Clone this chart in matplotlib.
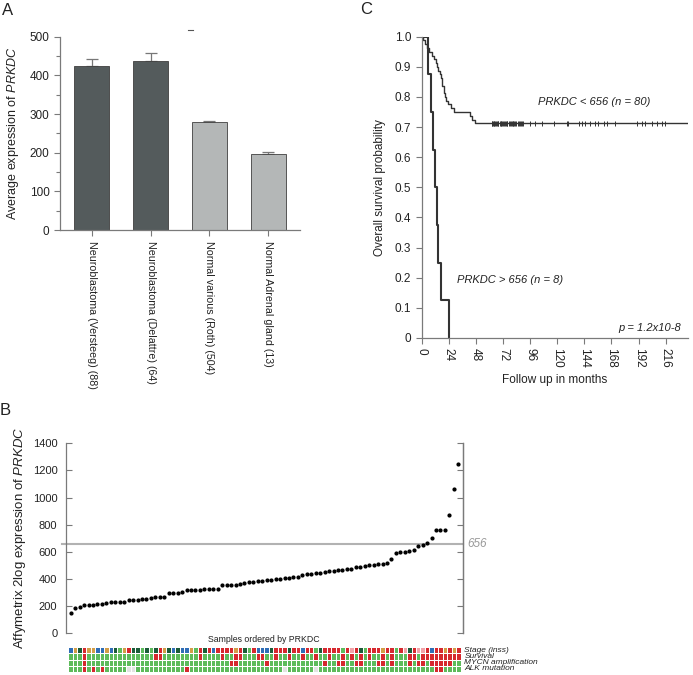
import numpy as np
import matplotlib
matplotlib.use('Agg')
import matplotlib.pyplot as plt
from matplotlib.colors import ListedColormap
from matplotlib.lines import Line2D

plt.rcParams['font.family'] = ['Liberation Sans', 'DejaVu Sans']
plt.rcParams['mathtext.fontset'] = 'custom'
plt.rcParams['mathtext.it'] = 'Liberation Sans:italic'
plt.rcParams['mathtext.rm'] = 'Liberation Sans'

# ---------------- data ----------------
# Panel A
a_groups = ["Neuroblastoma (Versteeg) (88)", "Neuroblastoma (Delattre) (64)",
            "Normal various (Roth) (504)", "Normal Adrenal gland (13)"]
a_means = [423, 436, 279, 196]
a_errs = [20, 23, 4, 5]
a_kind = ["tumor", "tumor", "normal", "normal"]

# Panel B (samples ordered by PRKDC)
b_values = [147, 186, 196, 208, 212, 212, 213, 214, 226, 227, 228, 230, 232, 243, 245,
            247, 250, 256, 263, 266, 268, 270, 295, 297, 300, 305, 316, 318, 320, 322,
            326, 327, 328, 330, 355, 356, 357, 358, 362, 372, 375, 378, 383, 388, 392,
            395, 398, 403, 407, 410, 412, 415, 432, 438, 440, 442, 447, 452, 457, 462,
            468, 470, 473, 476, 490, 492, 496, 500, 505, 508, 510, 516, 545, 590, 598,
            600, 605, 612, 640, 652, 668, 705, 758, 760, 762, 875, 1065, 1245]
b_cutoff = 656
row_names = ["Stage (inss)", "Survival", "MYCN amplification", "ALK mutation"]
# stage codes: B=blue, T=tan, D=dark green, G=green, R=red, P=pink
stage_codes = ("BTDRTTBBTBDGTRDDGDGDRTDBDBBTG"
               "RDRBRRRRTRDGRBBBDRRRDRRBRRGDRRR"
               "RGRPRDGRRRTRRGRPDRPPRBRRTRTR")
survival_dead = [3, 19, 20, 29, 34, 37, 38, 42, 43, 46, 49, 52, 55, 58, 61, 63, 65, 67, 70,
                 72, 76, 77, 79, 80, 81, 82, 83, 84, 85, 86, 87]
mycn_amplified = [3, 36, 37, 44, 57, 60, 61, 64, 65, 69, 70, 72, 76, 78, 79, 81, 82, 83, 84,
                  85]
alk_mutated = [3, 5, 7, 26, 82, 83]
alk_missing = [13, 14, 48, 55]

# Panel C (Kaplan-Meier)
low_event_times = [1.5, 3, 5, 7, 9, 11, 12.5, 14, 15, 16, 17, 18, 18.5, 19.5, 20, 21, 22, 23,
                   26, 29, 43, 45, 47]
low_censor_times = [62, 62.5, 63, 64, 64.5, 65, 66, 66.5, 67.5, 68, 69, 70, 70.5, 71, 72, 73,
                    74, 74.5, 75.5, 76, 77, 78, 79, 80, 80.5, 81, 82, 83, 84, 85.5, 86, 87,
                    88, 89, 90, 96, 100.5, 106.5, 117.5, 128.5, 130, 139, 142, 145, 149,
                    153.5, 156.5, 161, 164, 171, 190.5, 195, 197.5, 203.5, 208, 212.5, 215.5]
high_event_times = [5.5, 8, 10, 12, 13.5, 15, 17.5, 24]
c_xticks = [0, 24, 48, 72, 96, 120, 144, 168, 192, 216]
c_yticks = [0, 0.1, 0.2, 0.3, 0.4, 0.5, 0.6, 0.7, 0.8, 0.9, 1.0]

# ---------------- figure ----------------
W, H = 693, 675
fig = plt.figure(figsize=(W / 100, H / 100), dpi=100)


def axes_px(l, t, r, b):
    return fig.add_axes([l / W, 1 - b / H, (r - l) / W, (b - t) / H])


SP = '#7a7a7a'
TXT = '#222222'

# ---------------- Panel A ----------------
axA = axes_px(60, 36.7, 300, 230)
colA = {"tumor": "#545b5c", "normal": "#b4b7b7"}
xA = np.arange(len(a_groups))
axA.bar(xA, a_means, width=0.59, color=[colA[k] for k in a_kind], edgecolor='#3f3f3f',
        linewidth=0.6, zorder=2)
axA.errorbar(xA, a_means, yerr=[np.zeros(len(a_errs)), a_errs], fmt='none', ecolor='#777777',
             elinewidth=0.9, capsize=4, capthick=0.9, zorder=1)
axA.set_xlim(-0.534, 3.534)
axA.set_ylim(0, 500)
axA.set_yticks(range(0, 501, 100))
axA.set_yticks(range(50, 500, 100), minor=True)
axA.set_xticks(xA)
axA.set_xticklabels(a_groups, rotation=270, ha='center', va='top', fontsize=7.7, color=TXT)
axA.tick_params(axis='y', labelsize=8.5, colors=SP, labelcolor=TXT, length=4, width=0.8)
axA.tick_params(axis='y', which='minor', length=3, width=0.8, colors=SP)
axA.tick_params(axis='x', length=4, width=0.8, colors=SP, labelcolor=TXT, pad=4)
for s in ['top', 'right']:
    axA.spines[s].set_visible(False)
for s in ['left', 'bottom']:
    axA.spines[s].set_color(SP)
    axA.spines[s].set_linewidth(0.9)
axA.set_ylabel(r"Average expression of $\mathit{PRKDC}$", fontsize=9, color=TXT, labelpad=6)
fig.add_artist(Line2D([187.7 / W, 192.7 / W], [1 - 30.3 / H] * 2, color='#555555', lw=0.8))
fig.text(2 / W, 1 - 3 / H, "A", fontsize=12, va='top', ha='left', color=TXT)

# ---------------- Panel C ----------------
axC = axes_px(421.5, 36.7, 688.3, 338)


def km(event_times, censor_times):
    t = np.concatenate([event_times, censor_times])
    e = np.concatenate([np.ones(len(event_times)), np.zeros(len(censor_times))])
    order = np.lexsort((1 - e, t))
    t, e = t[order], e[order]
    at_risk = len(t)
    s = 1.0
    xs, ys, cx, cy = [0.0], [1.0], [], []
    for ti, ei in zip(t, e):
        if ei:
            s *= (at_risk - 1) / at_risk
            xs.append(ti)
            ys.append(s)
        else:
            cx.append(ti)
            cy.append(s)
        at_risk -= 1
    return np.array(xs), np.array(ys), np.array(cx), np.array(cy)


xlimC = 236
lx, ly, lcx, lcy = km(low_event_times, low_censor_times)
hx, hy, _, _ = km(high_event_times, [])
axC.step(np.append(lx, xlimC), np.append(ly, ly[-1]), where='post', color='#333333', lw=1.0)
axC.plot(lcx, lcy, linestyle='none', marker='|', ms=3.6, mew=0.7, color='#333333')
axC.step(hx, hy, where='post', color='#333333', lw=1.5)
axC.set_xlim(0, xlimC)
axC.set_ylim(0, 1.0)
axC.set_xticks(c_xticks)
axC.set_xticklabels([str(v) for v in c_xticks], rotation=270, ha='center', va='top')
axC.set_yticks(c_yticks)
axC.set_yticklabels(["0"] + [f"{v:.1f}" for v in c_yticks[1:]])
axC.tick_params(axis='both', labelsize=8.5, colors=SP, labelcolor=TXT, length=4, width=0.8)
for s in ['top', 'right']:
    axC.spines[s].set_visible(False)
for s in ['left', 'bottom']:
    axC.spines[s].set_color(SP)
    axC.spines[s].set_linewidth(0.9)
axC.set_ylabel("Overall survival probability", fontsize=8.5, color=TXT, labelpad=6)
axC.set_xlabel("Follow up in months", fontsize=8.5, color=TXT, labelpad=4)
axC.text(103, 0.782, "PRKDC < 656 (n = 80)", style='italic', fontsize=8, color=TXT,
         va='center', ha='left')
axC.text(31, 0.192, "PRKDC > 656 (n = 8)", style='italic', fontsize=8, color=TXT,
         va='center', ha='left')
axC.text(230, 0.034, "p = 1.2x10-8", style='italic', fontsize=8, color=TXT,
         va='center', ha='right')
fig.text(360 / W, 1 - 2 / H, "C", fontsize=12, va='top', ha='left', color=TXT)

# ---------------- Panel B ----------------
axB = axes_px(65.7, 443.3, 462.7, 633.3)
nB = len(b_values)
idxB = np.arange(nB)
xlimB = (-1.12, nB - 0.01)
axB.plot(idxB, b_values, linestyle='none', marker='o', ms=2.0, color='black')
axB.plot([-2.0, xlimB[1]], [b_cutoff, b_cutoff], color='#b2b2b2', lw=1.5, clip_on=False,
         zorder=0)
axB.set_xlim(*xlimB)
axB.set_ylim(0, 1400)
axB.set_yticks(range(0, 1401, 200))
axB.set_xticks([])
axB.tick_params(axis='y', labelsize=8, colors=SP, labelcolor=TXT, direction='in', length=4,
                width=0.8, pad=6)
for s in ['top', 'bottom']:
    axB.spines[s].set_visible(False)
for s in ['left', 'right']:
    axB.spines[s].set_color(SP)
    axB.spines[s].set_linewidth(0.9)
secB = axB.secondary_yaxis('right')
secB.set_yticks(range(0, 1401, 200))
secB.tick_params(direction='in', length=4, width=0.8, colors=SP, labelright=False)
secB.spines['right'].set_color(SP)
secB.spines['right'].set_linewidth(0.9)
axB.text(1.012, b_cutoff, str(b_cutoff), transform=axB.get_yaxis_transform(), style='italic',
         fontsize=8.5, color='#9a9a9a', va='center', ha='left')
axB.set_ylabel(r"Affymetrix 2log expression of $\mathit{PRKDC}$", fontsize=9.5, color=TXT,
               labelpad=3)
fig.text(264 / W, 1 - 639 / H, "Samples ordered by PRKDC", fontsize=6.3, color=TXT,
         ha='center', va='center')
fig.text(0 / W, 1 - 403 / H, "B", fontsize=12, va='top', ha='left', color=TXT)

# ---------------- Heatmap ----------------
axH = axes_px(65.7, 647.3, 462.7, 671.7)
codes = "BTDGRPN"
cmap = ListedColormap(["#2f6db6", "#d29d47", "#1b5c38", "#5dbb5b", "#d6282e", "#f2a2a8",
                       "#e3e3e3"])


def binary_row(red_idx, missing_idx=()):
    r = ['G'] * nB
    for i in red_idx:
        r[i] = 'R'
    for i in missing_idx:
        r[i] = 'N'
    return r


rows = [list(stage_codes), binary_row(survival_dead), binary_row(mycn_amplified),
        binary_row(alk_mutated, alk_missing)]
mat = np.array([[codes.index(c) for c in r] for r in rows])
axH.pcolormesh(np.arange(nB + 1) - 0.5, np.arange(len(rows) + 1), mat, cmap=cmap, vmin=-0.5,
               vmax=len(codes) - 0.5, edgecolors='white', linewidth=0.6)
axH.set_xlim(*xlimB)
axH.set_ylim(len(rows), 0)
axH.axis('off')
for i, name in enumerate(row_names):
    axH.text(1.004, i + 0.5, name, transform=axH.get_yaxis_transform(), style='italic',
             fontsize=6, color=TXT, va='center', ha='left')

fig.savefig("out.png", dpi=100)
